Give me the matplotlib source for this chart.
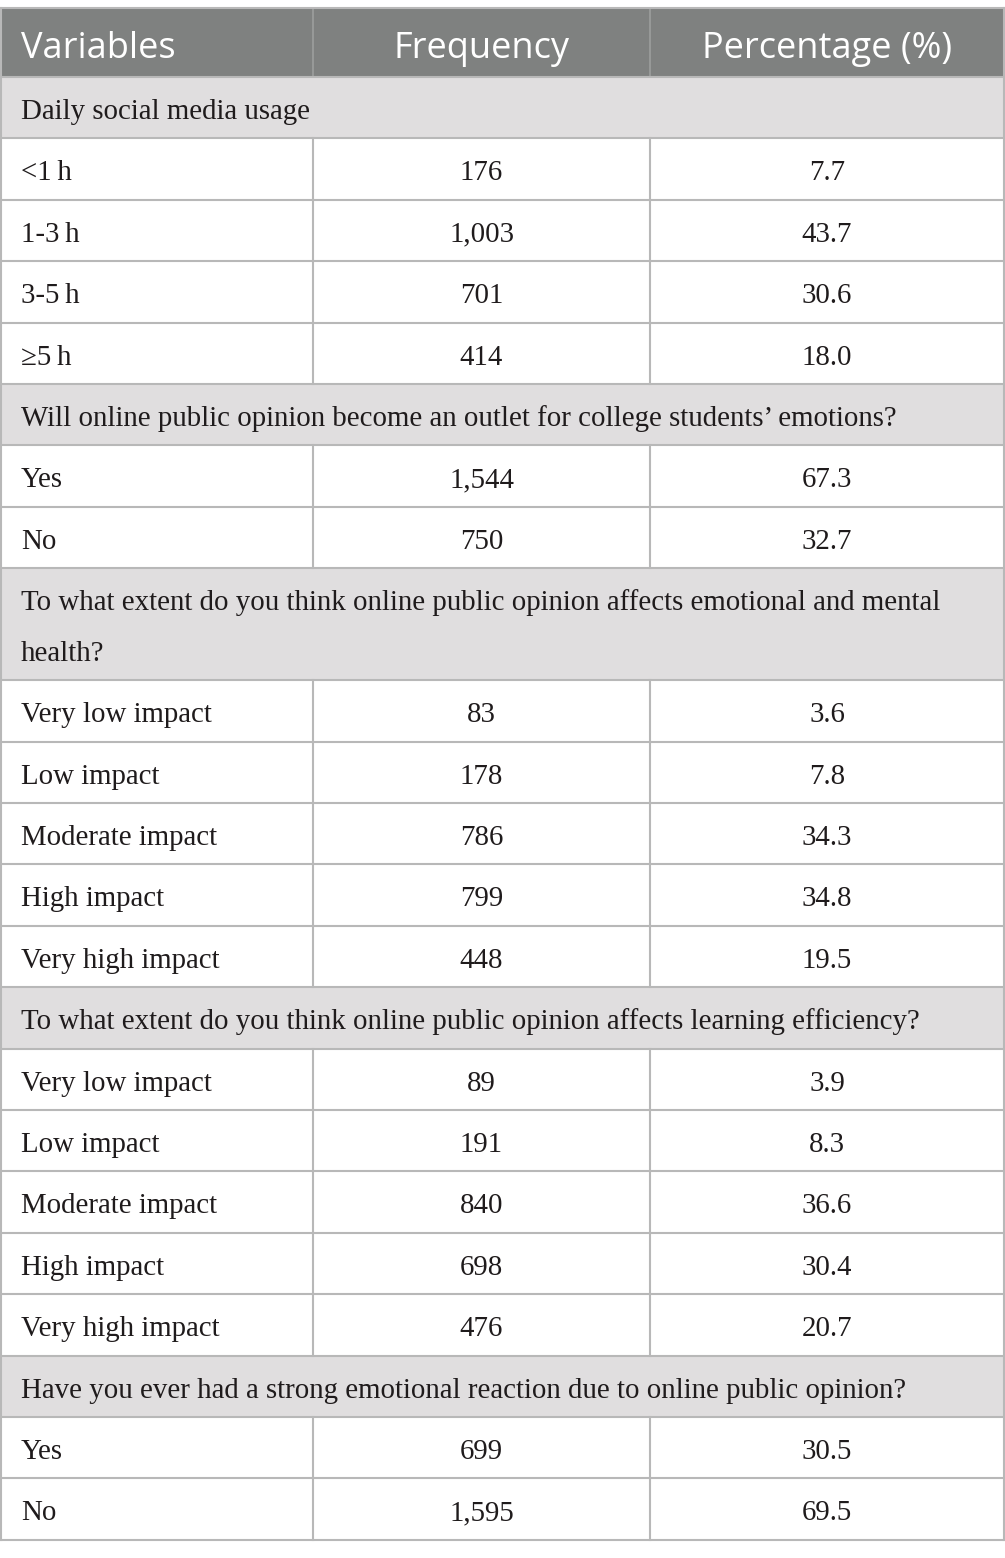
import matplotlib.pyplot as plt
from matplotlib.patches import Rectangle

# table content
headers = ['Variables', 'Frequency', 'Percentage (%)']

sections = [
    ['Daily social media usage'],
    ['Will online public opinion become an outlet for college students\u2019 emotions?'],
    ['To what extent do you think online public opinion affects emotional and mental', 'health?'],
    ['To what extent do you think online public opinion affects learning efficiency?'],
    ['Have you ever had a strong emotional reaction due to online public opinion?'],
]
labels = [
    ['<1\u2009h', '1-3\u2009h', '3-5\u2009h', '\u22655\u2009h'],
    ['Yes', 'No'],
    ['Very low impact', 'Low impact', 'Moderate impact', 'High impact', 'Very high impact'],
    ['Very low impact', 'Low impact', 'Moderate impact', 'High impact', 'Very high impact'],
    ['Yes', 'No'],
]
frequency = [
    ['176', '1,003', '701', '414'],
    ['1,544', '750'],
    ['83', '178', '786', '799', '448'],
    ['89', '191', '840', '698', '476'],
    ['699', '1,595'],
]
percentage = [
    ['7.7', '43.7', '30.6', '18.0'],
    ['67.3', '32.7'],
    ['3.6', '7.8', '34.3', '34.8', '19.5'],
    ['3.9', '8.3', '36.6', '30.4', '20.7'],
    ['30.5', '69.5'],
]

W, H = 1005, 1558
fig = plt.figure(figsize=(W / 100, H / 100), dpi=100)
ax = fig.add_axes([0, 0, 1, 1])
ax.set_xlim(0, W)
ax.set_ylim(H, 0)
ax.axis('off')

x0, x1, x2, x3 = 1, 313, 650, 1004
top = 8
head_h = 69
row_h = 61.4
extra_line = 50.6
base_off = 42
line_c = '#b8b8b8'
txt_c = '#1f1b1c'
serif = ['Liberation Serif', 'DejaVu Serif']
fs = 20.8
hfs = 26

# header
ax.add_patch(Rectangle((x0, top), x3 - x0, head_h, facecolor='#7f8180', edgecolor='none'))
hy = top + 49.5
ax.text(21, hy, headers[0], color='white', fontsize=hfs, family='Open Sans', va='baseline', ha='left')
ax.text((x1 + x2) / 2, hy, headers[1], color='white', fontsize=hfs, family='Open Sans', va='baseline', ha='center')
ax.text((x2 + x3) / 2, hy, headers[2], color='white', fontsize=hfs, family='Open Sans', va='baseline', ha='center')
for xv in (x1, x2):
    ax.plot([xv, xv], [top, top + head_h], color='#9c9e9d', lw=1.2)

y = top + head_h
hlines = [top, y]
for s, lab, fr, pc in zip(sections, labels, frequency, percentage):
    h = row_h + extra_line * (len(s) - 1)
    ax.add_patch(Rectangle((x0, y), x3 - x0, h, facecolor='#e0dedf', edgecolor='none'))
    for k, line in enumerate(s):
        ax.text(21, y + base_off + k * extra_line, line, color=txt_c, fontsize=fs, family=serif,
                va='baseline', ha='left')
    y += h
    hlines.append(y)
    for l, f, p in zip(lab, fr, pc):
        by = y + base_off
        ax.text(21, by, l, color=txt_c, fontsize=fs, family=serif, va='baseline', ha='left')
        ax.text((x1 + x2) / 2, by, f, color=txt_c, fontsize=fs, family=serif, va='baseline', ha='center')
        ax.text((x2 + x3) / 2, by, p, color=txt_c, fontsize=fs, family=serif, va='baseline', ha='center')
        for xv in (x1, x2):
            ax.plot([xv, xv], [y, y + row_h], color=line_c, lw=1.5)
        y += row_h
        hlines.append(y)

for yy in hlines:
    ax.plot([x0, x3], [yy, yy], color=line_c, lw=1.5)
ax.plot([x0, x0], [top, y], color=line_c, lw=1.5)
ax.plot([x3, x3], [top, y], color=line_c, lw=1.5)

fig.savefig('out.png', dpi=100, facecolor='white')
